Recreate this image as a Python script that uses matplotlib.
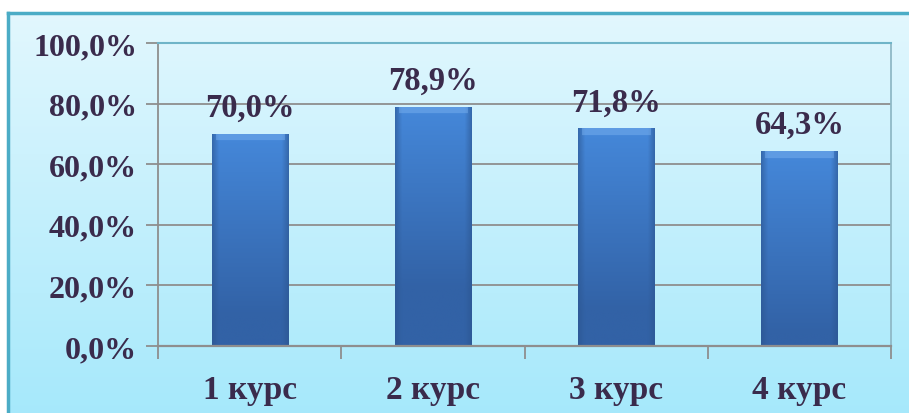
import numpy as np
import matplotlib.pyplot as plt
from matplotlib.colors import to_rgb
from matplotlib.ticker import FuncFormatter, FixedLocator

# Data
courses = ['1 курс', '2 курс', '3 курс', '4 курс']
values = [0.700, 0.789, 0.718, 0.643]
value_labels = ['70,0%', '78,9%', '71,8%', '64,3%']
y_ticks = [0.0, 0.2, 0.4, 0.6, 0.8, 1.0]

text_color = '#3a2b4c'
grid_color = '#8e8e8e'
border_color = '#4bacc6'
font = ['Liberation Serif', 'DejaVu Serif']

W, H = 909, 414
fig = plt.figure(figsize=(W / 100, H / 100), dpi=100)
fig.patch.set_facecolor('white')

# Chart area background with vertical gradient
bg = fig.add_axes([8 / W, -0.05, 1.05, (H - 14) / H + 0.05])
top_c = np.array(to_rgb('#e2f7fe'))
bot_c = np.array(to_rgb('#a3e8fb'))
t = np.linspace(0, 1, 256)[:, None]
grad = top_c * (1 - t[..., None]) + bot_c * t[..., None]
grad = np.repeat(grad, 2, axis=1)
bg.imshow(grad, aspect='auto', extent=[0, 1, 0, 1], origin='upper')
bg.set_xticks([])
bg.set_yticks([])
for s in bg.spines.values():
    s.set_color(border_color)
    s.set_linewidth(2.5)

# Plot area
ax = fig.add_axes([158 / W, (H - 347) / H, (891 - 158) / W, (347 - 44) / H])
ax.patch.set_alpha(0)

x = np.arange(len(courses))
bars = ax.bar(x, values, width=0.415, color='#3b72bd', zorder=3)

# Bevelled gradient fill for each bar
light = np.array(to_rgb('#4588da'))
dark = np.array(to_rgb('#3262a6'))
edge = np.array(to_rgb('#2c5690'))
rim_c = np.array(to_rgb('#78b0ee'))
for b in bars:
    x0, y0 = b.get_x(), b.get_y()
    w, h = b.get_width(), b.get_height()
    ny, nx = int(h * 300), 76
    depth = np.linspace(0, h, ny)[:, None]          # distance from top, data units
    hx = np.linspace(-1, 1, nx)[None, :]
    mix = np.clip(depth / 0.6, 0, 1) * np.ones_like(hx)
    img = light * (1 - mix[..., None]) + dark * mix[..., None]
    side = np.clip((np.abs(hx) - 0.82) / 0.18, 0, 1) * np.ones_like(depth)
    img = img * (1 - 0.6 * side[..., None]) + edge * 0.6 * side[..., None]
    # light bevel along the top
    rim = (depth < 0.022) & (np.abs(hx) < 0.9 - 0.0 * depth)
    img[rim] = img[rim] * 0.5 + rim_c * 0.5
    im = ax.imshow(img, extent=[x0, x0 + w, y0, y0 + h], origin='upper',
                   aspect='auto', zorder=4, interpolation='bilinear')
    im.set_clip_path(b)

for xi, v, lab in zip(x, values, value_labels):
    ax.annotate(lab, (xi, v), xytext=(0, 8), textcoords='offset points',
                ha='center', va='bottom', fontsize=23.5, fontweight='bold',
                family=font, color=text_color, zorder=5)

ax.set_xlim(-0.5, len(courses) - 0.5)
ax.set_ylim(0, 1)
ax.yaxis.set_major_locator(FixedLocator(y_ticks))
ax.yaxis.set_major_formatter(FuncFormatter(lambda v, p: f'{v * 100:.1f}%'.replace('.', ',')))
ax.grid(axis='y', color=grid_color, linewidth=1.3, zorder=1)

ax.set_xticks(np.arange(len(courses) + 1) - 0.5)
ax.set_xticklabels([])
ax.set_xticks(x, minor=True)
ax.set_xticklabels(courses, minor=True)
ax.tick_params(axis='x', which='major', length=9, width=1.3, color=grid_color, direction='out')
ax.tick_params(axis='x', which='minor', length=0, pad=20)
ax.tick_params(axis='y', length=9, width=1.3, color=grid_color, pad=6)

for lab in ax.get_xticklabels(minor=True):
    lab.set_fontsize(24)
for lab in ax.get_yticklabels():
    lab.set_fontsize(23)
for lab in ax.get_xticklabels(minor=True) + ax.get_yticklabels():
    lab.set_fontfamily(font)
    lab.set_fontweight('bold')
    lab.set_color(text_color)

ax.spines['left'].set_color(grid_color)
ax.spines['bottom'].set_color(grid_color)
ax.spines['left'].set_linewidth(1.3)
ax.spines['bottom'].set_linewidth(1.6)
ax.spines['top'].set_color('#6fb4c8')
ax.spines['right'].set_color('#8fb9c6')
ax.spines['top'].set_linewidth(1.5)
ax.spines['right'].set_linewidth(1.3)
ax.spines['bottom'].set_zorder(6)

fig.savefig('out.png', dpi=100)
